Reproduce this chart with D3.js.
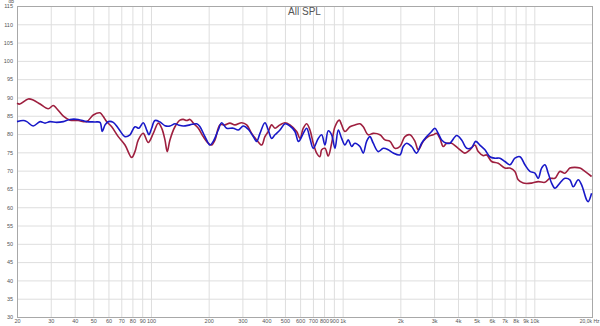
<!DOCTYPE html>
<html>
<head>
<meta charset="utf-8">
<script src="https://cdn.jsdelivr.net/npm/d3@7"></script>
<style>
  body { margin: 0; background: #fff; }
  svg { display: block; }
</style>
</head>
<body>
<div class="spl_chart"></div>
<script>
var redFreq = [20, 20.7, 22.9, 24.3, 26.4, 29.1, 30.9, 32.2, 34.9, 37.8, 41.7, 46.2, 50, 54.2, 56.4, 58.7, 62.4, 67.5, 73.2, 79.3,
  82.5, 85.9, 91.1, 96.8, 102.8, 109.2, 114, 118.3, 121.6, 125.6, 133.4, 141.7, 147.4, 153.6, 159.8, 166.3, 176.6, 187.4, 199, 207.2,
  215.8, 229, 243.2, 258.2, 274.4, 297.4, 315.8, 335.2, 356, 378, 393.2, 409.2, 426.2, 443.6, 471, 500, 531, 575.6, 599, 623.2,
  649.2, 675.4, 702.6, 732, 761.6, 777.2, 808.8, 841.4, 876.4, 912, 960.4, 988.4, 1028, 1092, 1159, 1231, 1281, 1360, 1444, 1565,
  1663, 1766, 1874, 1990, 2114, 2244, 2384, 2480, 2634, 2796, 2968, 3092, 3218, 3348, 3488, 3630, 3704, 4010, 4346, 4614,
  4900, 5098, 5414, 5640, 5990, 6484, 7026, 7460, 7922, 8242, 8754, 9682, 10480, 11360, 12062, 12808, 13600, 14442, 15336, 16288,
  17296, 18368, 19904];
var redSpl = [88.4, 88.2, 89.6, 89.3, 88.2, 86.9, 87.8, 87.0, 84.9, 83.8, 83.7, 83.4, 85.2, 85.8, 84.8, 83.4, 82.0, 79.3, 77.0, 73.6,
  75.2, 78.4, 80.2, 77.7, 80.2, 83.0, 81.5, 78.4, 75.2, 78.4, 82.0, 83.8, 84.0, 83.7, 84.0, 83.0, 81.6, 79.3, 77.5, 77.0,
  78.4, 82.5, 82.5, 83.0, 82.5, 83.1, 82.5, 80.2, 78.4, 77.0, 79.3, 80.7, 82.5, 81.6, 82.5, 83.1, 82.5, 80.7, 78.8, 81.6,
  82.8, 81.1, 77.5, 74.8, 73.8, 75.7, 76.1, 74.0, 77.5, 82.0, 83.8, 82.5, 80.7, 82.0, 82.5, 82.8, 82.0, 79.8, 80.2, 79.8,
  78.4, 78.0, 76.1, 76.6, 79.3, 79.8, 78.0, 75.7, 78.0, 79.3, 79.8, 80.2, 78.8, 76.6, 77.5, 77.5, 77.5, 76.1, 74.8, 75.7,
  77.0, 75.2, 74.1, 74.3, 72.5, 72.0, 70.7, 70.7, 69.8, 67.5, 66.6, 66.6, 67.0, 66.8, 67.9, 67.9, 69.8, 69.3, 70.7, 70.9,
  70.7, 69.8, 68.4];

var blueFreq = [20, 21.6, 22.5, 24.3, 26.4, 28, 29.7, 32.2, 34.9, 37.8, 41.7, 46.2, 51, 54.2, 55.7, 57.6, 59.9, 63.6, 67.5, 73.2,
  77.7, 82.5, 86.6, 91.1, 95, 97.6, 100.8, 104.9, 111.4, 118.3, 125.6, 133.4, 138.8, 147.4, 159.8, 173.2, 180.2, 191.3, 203.1, 211.4,
  224.4, 233.8, 248.2, 268.8, 285.4, 303.2, 321.8, 341.8, 356, 370.4, 393.2, 409.2, 426.2, 443.6, 471, 500, 531, 564, 586.8, 599,
  623.2, 649.2, 675.4, 702.6, 746.2, 777.2, 808.8, 841.4, 876.4, 912, 949, 988.4, 1028, 1070, 1114, 1159, 1231, 1281, 1334, 1388,
  1444, 1534, 1629, 1730, 1837, 1990, 2070, 2158, 2290, 2432, 2582, 2744, 2912, 3030, 3152, 3284, 3488, 3630, 3934, 4176,
  4436, 4710, 4942, 5202, 5526, 5868, 6232, 6618, 7026, 7460, 7922, 8414, 8934, 9486, 10072, 10480, 10918, 11360, 11818, 12310,
  12808, 13600, 14442, 15336, 15958, 16946, 17652, 18744, 19108, 19904];
var blueSpl = [83.4, 83.7, 83.4, 82.2, 83.4, 83.0, 83.4, 83.2, 83.4, 84.0, 84.0, 83.4, 83.3, 83.2, 80.7, 82.5, 83.4, 83.2, 81.6, 79.3,
  79.8, 82.0, 81.6, 83.1, 81.1, 79.8, 81.6, 83.7, 83.3, 82.3, 82.2, 82.8, 82.5, 82.2, 82.5, 82.8, 82.0, 79.3, 77.0, 78.0,
  81.1, 83.1, 81.6, 81.6, 81.1, 82.2, 81.3, 79.3, 78.0, 80.2, 83.1, 81.1, 78.8, 79.8, 81.1, 82.8, 82.2, 80.7, 78.0, 78.4,
  80.2, 81.6, 78.8, 76.1, 78.8, 79.8, 77.0, 80.9, 79.8, 76.1, 81.1, 78.8, 77.0, 78.4, 76.6, 77.5, 76.6, 74.8, 78.0, 79.3,
  77.5, 75.2, 76.1, 75.7, 74.8, 74.3, 76.6, 77.5, 76.6, 74.8, 77.5, 79.3, 80.7, 81.6, 80.2, 78.4, 77.5, 77.5, 79.6, 78.4,
  76.1, 76.3, 78.0, 77.0, 75.7, 73.8, 73.4, 73.4, 72.5, 71.6, 73.4, 73.8, 71.6, 69.8, 69.3, 67.9, 70.7, 71.6, 69.3, 66.6,
  65.2, 66.6, 67.9, 67.5, 65.6, 67.5, 66.1, 62.0, 61.5, 63.8];

var xTicks = [20, 30, 40, 50, 60, 70, 80, 90, 100, 200, 300, 400, 500, 600, 700, 800, 900,
  1000, 2000, 3000, 4000, 5000, 6000, 7000, 8000, 9000, 10000, 20000];
var xTickLabels = ["20", "30", "40", "50", "60", "70", "80", "90", "100", "200", "300", "400", "500", "600", "700", "800", "900",
  "1k", "2k", "3k", "4k", "5k", "6k", "7k", "8k", "9k", "10k", "20,0k Hz"];
var yTicks = d3.range(30, 116, 5);

// Set the dimensions and margins
var margin = {top: 6, right: 8, bottom: 9, left: 17},
width = 600 - margin.left - margin.right,
height = 326 - margin.top - margin.bottom;

var svg = d3.select(".spl_chart")
  .append("svg")
  .attr("width", width + margin.left + margin.right)
  .attr("height", height + margin.top + margin.bottom)
  .style("font-family", "Liberation Sans, Arial, sans-serif");

var g = svg.append("g")
  .attr("transform", "translate(" + margin.left + "," + margin.top + ")");

var x = d3.scaleLog()
  .domain([20, 20000])
  .range([0, width]);

var y = d3.scaleLinear()
  .domain([30, 115])
  .range([height, 0]);

// Horizontal grid + dB labels
g.append("g")
  .call(d3.axisLeft(y)
  .tickValues(yTicks)
  .tickSize(-width)
  .tickPadding(4))
  .call(g => g.select(".domain").remove())
  .call(g => g.selectAll(".tick line")
  .attr("stroke", "#dedede"))
  .call(g => g.selectAll(".tick text")
  .attr("fill", "#555")
  .style("font-size", "5.5px"));

// Vertical grid + frequency labels
g.append("g")
  .attr("transform", "translate(0," + height + ")")
  .call(d3.axisBottom(x)
  .tickValues(xTicks)
  .tickFormat((d, i) => xTickLabels[i])
  .tickSize(-height)
  .tickPadding(2))
  .call(g => g.select(".domain").remove())
  .call(g => g.selectAll(".tick line")
  .attr("stroke", "#dedede"))
  .call(g => g.selectAll(".tick text")
  .attr("fill", "#555")
  .style("font-size", "5.5px"))
  .call(g => g.selectAll(".tick:last-of-type text")
  .attr("text-anchor", "end")
  .attr("dx", 7)
  .style("font-size", "5px"));

// Plot frame
g.append("rect")
  .attr("x", 0.5)
  .attr("y", 0.5)
  .attr("width", width)
  .attr("height", height)
  .attr("fill", "none")
  .attr("stroke", "#a8a8a8");

// Title and unit
svg.append("text")
  .attr("x", margin.left + width / 2)
  .attr("y", 15)
  .attr("text-anchor", "middle")
  .attr("fill", "#555")
  .style("font-size", "10px")
  .text("All SPL");

svg.append("text")
  .attr("x", 14)
  .attr("y", 3)
  .attr("text-anchor", "end")
  .attr("fill", "#555")
  .style("font-size", "4.5px")
  .text("dB");

// Curves
var line = d3.line()
  .x(d => x(d[0]))
  .y(d => y(d[1]))
  .curve(d3.curveCatmullRom.alpha(0.5));

var series = [
  {color: "#9e1f3f", data: d3.zip(redFreq, redSpl)},
  {color: "#1818c8", data: d3.zip(blueFreq, blueSpl)}
];

g.selectAll(".curve")
  .data(series)
  .enter()
  .append("path")
  .attr("class", "curve")
  .attr("fill", "none")
  .attr("stroke", d => d.color)
  .attr("stroke-width", 1.6)
  .attr("stroke-linejoin", "round")
  .attr("d", d => line(d.data));
</script>
</body>
</html>
